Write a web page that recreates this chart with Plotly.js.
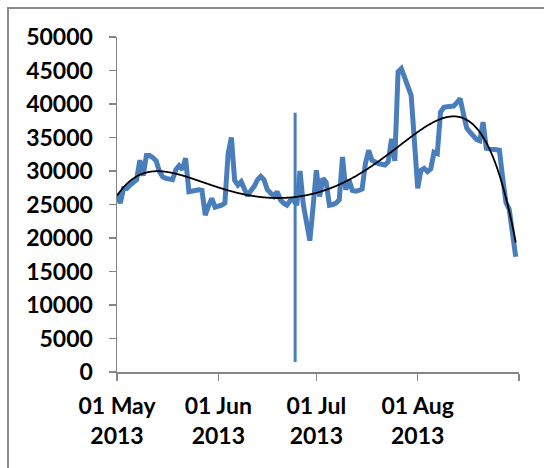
<!DOCTYPE html>
<html>
<head>
<meta charset="utf-8">
<script src="https://cdn.plot.ly/plotly-3.0.1.min.js"></script>
<style>
  html, body { margin: 0; padding: 0; background: #ffffff; overflow: hidden; }
  #frame { position: absolute; left: 7px; top: 7px; width: 600px; height: 520px;
           border-left: 2px solid #8c8c8c; border-top: 2px solid #8c8c8c; }
  #chart { position: absolute; left: 0; top: 0; width: 544px; height: 468px; }
</style>
</head>
<body>
<div id="frame"></div>
<div id="chart"></div>
<script>
// ---- data ----
const startDate = '2013-05-01';
const dailyValues = [
  26700, 25200, 27400, 27400, 27900, 28300, 28700, 31600, 29300, 32300,
  32300, 32000, 31500, 29900, 29100, 28900, 28800, 28700, 30200, 30800,
  30200, 31900, 26900, 27000, 27100, 27200, 27100, 23400, 24800, 25900,
  24600, 24700, 24900, 25200, 32600, 35000, 28600, 27900, 28400, 27300,
  26300, 27100, 27700, 28700, 29200, 28700, 27200, 26700, 26200, 26900,
  25700, 25200, 24900, 25600, 25700, 24900, 30000, 25000, 21700, 19600,
  24700, 30100, 26200, 28900, 28300, 24900, 25000, 25200, 25700, 32100,
  27200, 28600, 27100, 27000, 27100, 27300, 31100, 33100, 31600, 31300,
  31100, 31000, 30900, 31400, 34800, 31500, 44800, 45300, 44000, 42800,
  41300, 34500, 27400, 30100, 30400, 29900, 30300, 32800, 32600, 38800,
  39500, 39600, 39600, 39700, 40200, 40800, 38500, 36400, 35800, 35300,
  34700, 34500, 37300, 33400, 33300, 33300, 33200, 33100, 29000, 25300,
  24300, 20200, 17200
];
const markerDates = ['2013-06-24 12:00', '2013-06-24 12:00'];
const markerValues = [1500, 38700];
const xTickVals = ['2013-05-01', '2013-06-01', '2013-07-01', '2013-08-01', '2013-09-01'];
const xTickText = ['01 May<br>2013', '01 Jun<br>2013', '01 Jul<br>2013', '01 Aug<br>2013', ''];
const trendOrder = 6;

// ---- build dates ----
const DAY = 86400000;
const t0 = Date.parse(startDate + 'T00:00:00Z');
function isoDate(ms) { return new Date(ms).toISOString().slice(0, 19).replace('T', ' '); }
const dates = dailyValues.map((v, i) => isoDate(t0 + i * DAY));

// ---- polynomial trendline (least squares) ----
function polyFit(xs, ys, order) {
  const n = order + 1;
  const A = Array.from({length: n}, () => new Array(n + 1).fill(0));
  for (let k = 0; k < xs.length; k++) {
    const p = [];
    for (let i = 0; i < n; i++) p.push(Math.pow(xs[k], i));
    for (let i = 0; i < n; i++) {
      for (let j = 0; j < n; j++) A[i][j] += p[i] * p[j];
      A[i][n] += p[i] * ys[k];
    }
  }
  for (let c = 0; c < n; c++) {
    let piv = c;
    for (let r = c + 1; r < n; r++) if (Math.abs(A[r][c]) > Math.abs(A[piv][c])) piv = r;
    [A[c], A[piv]] = [A[piv], A[c]];
    for (let r = 0; r < n; r++) {
      if (r === c) continue;
      const f = A[r][c] / A[c][c];
      for (let j = c; j <= n; j++) A[r][j] -= f * A[c][j];
    }
  }
  return A.map((row, i) => row[n] / row[i]);
}
const N = dailyValues.length;
const half = (N - 1) / 2;
const xsNorm = dailyValues.map((v, i) => (i - half) / half);
const coef = polyFit(xsNorm, dailyValues, trendOrder);
const trendX = [], trendY = [];
for (let s = 0; s <= (N - 1) * 4; s++) {
  const d = s / 4;
  const u = (d - half) / half;
  let y = 0;
  for (let i = 0; i < coef.length; i++) y += coef[i] * Math.pow(u, i);
  trendX.push(isoDate(t0 + d * DAY));
  trendY.push(y);
}

const blue = '#4a7ebb';
const axisGrey = '#868686';
const tickFont = {family: 'Lato, "Open Sans", sans-serif', size: 23, color: '#000000', weight: 'bold'};

const traces = [
  {x: dates, y: dailyValues, type: 'scatter', mode: 'lines',
   line: {color: blue, width: 5}, hoverinfo: 'x+y'},
  {x: markerDates, y: markerValues, type: 'scatter', mode: 'lines',
   line: {color: blue, width: 3}, hoverinfo: 'skip'},
  {x: trendX, y: trendY, type: 'scatter', mode: 'lines',
   line: {color: '#000000', width: 1.8, shape: 'spline'}, hoverinfo: 'skip'}
];

const layout = {
  width: 544, height: 468,
  margin: {l: 117, r: 25, t: 37, b: 96, pad: 0},
  paper_bgcolor: 'rgba(0,0,0,0)',
  plot_bgcolor: 'rgba(0,0,0,0)',
  showlegend: false,
  xaxis: {
    type: 'date', range: ['2013-05-01', '2013-09-01'],
    tickmode: 'array', tickvals: xTickVals, ticktext: xTickText,
    ticks: 'outside', ticklen: 7, tickwidth: 1.5, tickcolor: axisGrey,
    showline: true, linecolor: axisGrey, linewidth: 1.5,
    showgrid: false, zeroline: false, tickfont: tickFont, ticklabelstandoff: 6
  },
  yaxis: {
    range: [0, 50000], tickmode: 'linear', tick0: 0, dtick: 5000, tickformat: 'd',
    ticks: 'outside', ticklen: 7, tickwidth: 1.5, tickcolor: axisGrey,
    showline: true, linecolor: axisGrey, linewidth: 1.5,
    showgrid: false, zeroline: false, tickfont: tickFont, ticklabelstandoff: 11
  }
};

Plotly.newPlot('chart', traces, layout, {displayModeBar: false, staticPlot: true});
</script>
</body>
</html>
